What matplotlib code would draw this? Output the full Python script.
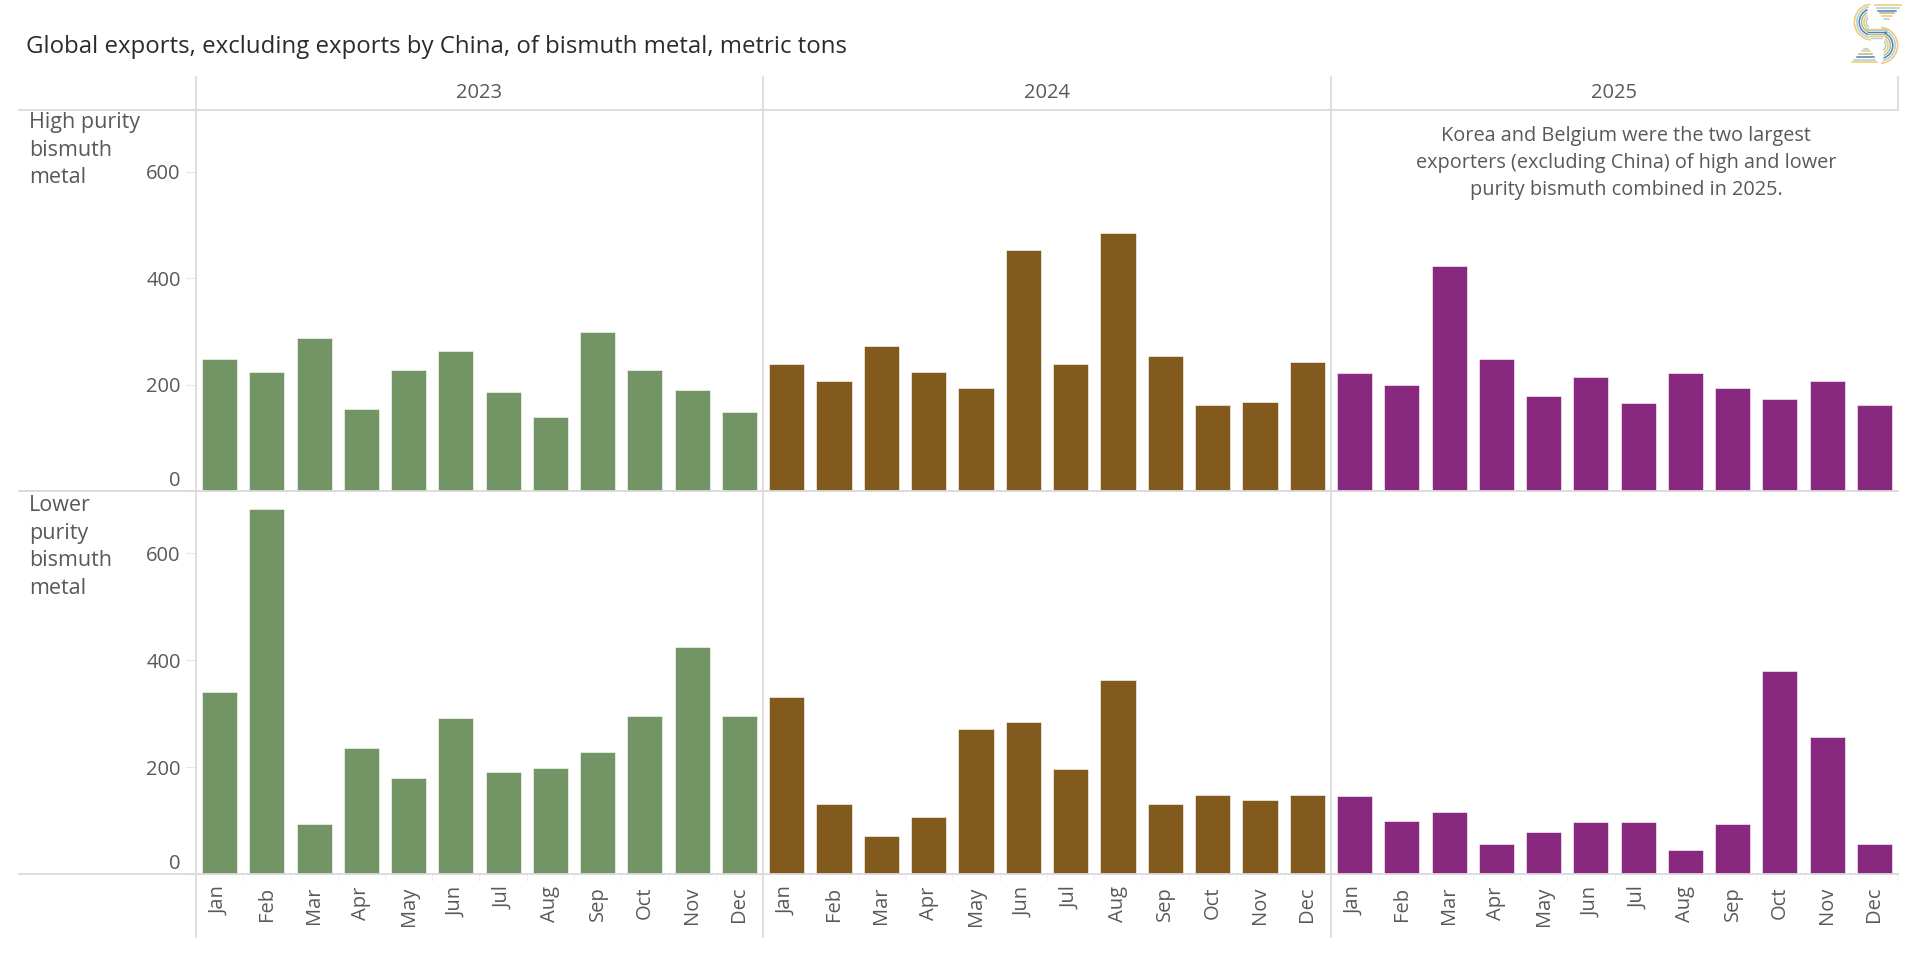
import numpy as np
import matplotlib
matplotlib.use("Agg")
import matplotlib.pyplot as plt
from matplotlib.lines import Line2D
from matplotlib.patches import Arc

plt.rcParams["font.family"] = ["Open Sans", "DejaVu Sans"]

# data (metric tons)
months = ["Jan", "Feb", "Mar", "Apr", "May", "Jun", "Jul", "Aug", "Sep", "Oct", "Nov", "Dec"]
years = ["2023", "2024", "2025"]
high_2023 = [248, 224, 287, 155, 228, 263, 186, 140, 299, 228, 189, 149]
high_2024 = [239, 206, 272, 224, 194, 452, 239, 485, 254, 161, 168, 242]
high_2025 = [221, 199, 422, 248, 178, 214, 166, 221, 194, 173, 206, 161]
low_2023 = [340, 682, 94, 235, 179, 292, 190, 199, 229, 295, 424, 295]
low_2024 = [331, 131, 71, 106, 272, 284, 196, 362, 131, 148, 139, 148]
low_2025 = [145, 100, 115, 56, 79, 98, 98, 44, 94, 379, 256, 56]
row_labels = ["High purity\nbismuth\nmetal", "Lower\npurity\nbismuth\nmetal"]
year_colors = ["#739566", "#835A1E", "#88287F"]
title = "Global exports, excluding exports by China, of bismuth metal, metric tons"
note = ("Korea and Belgium were the two largest\n"
        "exporters (excluding China) of high and lower\n"
        "purity bismuth combined in 2025.")

high = [high_2023, high_2024, high_2025]
low = [low_2023, low_2024, low_2025]

W, H = 1920, 960
fig = plt.figure(figsize=(19.2, 9.6), dpi=100)
fig.patch.set_facecolor("white")


def fx(px):
    return px / W


def fy(py):
    return 1 - py / H


grid_c = "#d9d9d9"
text_c = "#595959"

panel_x = [196, 763, 1331, 1898]
row_y = [(110, 491), (491, 874)]

for r, rows in enumerate([high, low]):
    y0, y1 = row_y[r]
    for c in range(3):
        ax = fig.add_axes([fx(panel_x[c]), fy(y1), fx(panel_x[c + 1] - panel_x[c]), (y1 - y0) / H])
        x = np.arange(12)
        ax.bar(x, rows[c], width=0.74, color=year_colors[c], edgecolor="#ffffff", linewidth=0.4, zorder=2)
        ax.set_xlim(-0.5, 11.5)
        ax.set_ylim(0, 716)
        for s in ["top", "right", "bottom"]:
            ax.spines[s].set_visible(False)
        ax.spines["left"].set_color(grid_c)
        ax.spines["left"].set_linewidth(1.2)
        if c == 0:
            ax.set_yticks([0, 200, 400, 600])
            ax.tick_params(axis="y", length=7, color="#e6e6e6", labelsize=14.5, labelcolor=text_c, pad=4)
            ax.get_yticklabels()[0].set_va("bottom")
        else:
            ax.set_yticks([])
        if r == 1:
            ax.set_xticks(x)
            ax.set_xticklabels(months, rotation=90, va="top")
            ax.set_xticks(np.arange(-0.5, 12, 1), minor=True)
            ax.tick_params(axis="x", which="major", length=0, labelsize=14.5, labelcolor=text_c, pad=9)
            ax.tick_params(axis="x", which="minor", length=5, color="#ececec")
        else:
            ax.set_xticks([])
        ax.patch.set_alpha(0)

# frame lines
for yy in [110, 491, 874]:
    fig.add_artist(Line2D([fx(19), fx(1898)], [fy(yy), fy(yy)], color=grid_c, lw=1.3))
for xx in panel_x:
    fig.add_artist(Line2D([fx(xx), fx(xx)], [fy(77), fy(110)], color=grid_c, lw=1.2))
for xx in panel_x[:3]:
    fig.add_artist(Line2D([fx(xx), fx(xx)], [fy(874), fy(937)], color=grid_c, lw=1.2))

# year headers
for c, yr in enumerate(years):
    fig.text(fx((panel_x[c] + panel_x[c + 1]) / 2), fy(93), yr, ha="center", va="center",
             fontsize=14.5, color=text_c)

# row labels
fig.text(fx(29), fy(112), row_labels[0], ha="left", va="top", fontsize=15.5, color=text_c, linespacing=1.42)
fig.text(fx(29), fy(495), row_labels[1], ha="left", va="top", fontsize=15.5, color=text_c, linespacing=1.42)

# title
fig.text(fx(26), fy(47), title, ha="left", va="center", fontsize=17.3, color="#2b2b2b")

# annotation
fig.text(fx(1626), fy(163), note, ha="center", va="center", fontsize=14.3, color=text_c, linespacing=1.45)

# logo (rough sketch of the striped "S")
lax = fig.add_axes([fx(1846), fy(64), fx(60), 60 / H])
lax.set_xlim(0, 10)
lax.set_ylim(0, 10)
lax.axis("off")
logo_cols = ["#f4c56a", "#a9d0dc", "#5b7ea3", "#a3bc93", "#f4c56a", "#a9d0dc"]
for i, col in enumerate(logo_cols):
    r = 3.0 - i * 0.4
    lax.add_patch(Arc((4.4, 7.0), 2 * r, 2 * r, theta1=95 + i * 8, theta2=265 - i * 6, color=col, lw=1.1))
    lax.add_patch(Arc((5.6, 3.1), 2 * r, 2 * r, theta1=-85 + i * 6, theta2=85 - i * 8, color=col, lw=1.1))
    lax.plot([4.8 + i * 0.3, 9.2 - i * 0.4], [9.8 - i * 0.45, 9.8 - i * 0.45], color=col, lw=1.1)
    lax.plot([1.0 + i * 0.4, 5.2 - i * 0.3], [0.3 + i * 0.45, 0.3 + i * 0.45], color=col, lw=1.1)
    lax.plot([3.2 + i * 0.2, 7.0 - i * 0.2], [5.9 - i * 0.3, 5.9 - i * 0.3], color=col, lw=1.0)

fig.savefig("out.png", dpi=100, facecolor="white")
